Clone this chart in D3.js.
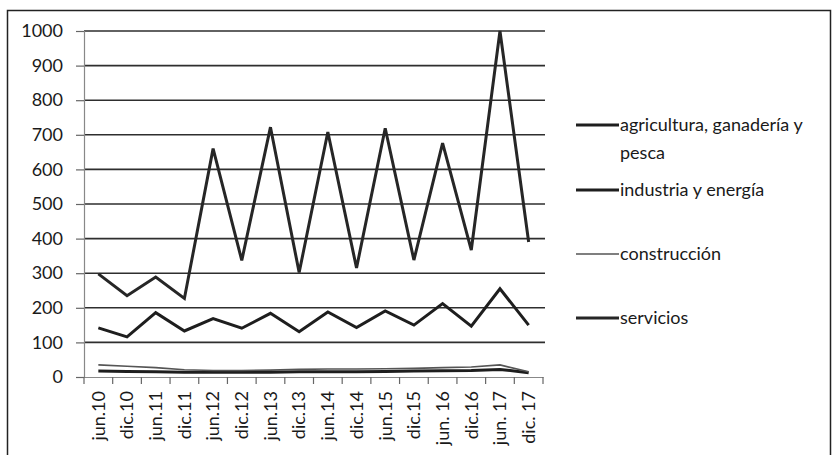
<!DOCTYPE html>
<html>
<head>
<meta charset="utf-8">
<script src="https://cdn.jsdelivr.net/npm/d3@7"></script>
<style>
  html, body { margin: 0; padding: 0; background: #fff; }
  svg { display: block; }
  text { font-family: Lato, "Open Sans", sans-serif; fill: #1a1a1a; }
</style>
</head>
<body>
<svg id="chart" width="836" height="455"></svg>
<script>
// Half-year periods
const categories = ["jun.10","dic.10","jun.11","dic.11","jun.12","dic.12","jun.13","dic.13",
                    "jun.14","dic.14","jun.15","dic.15","jun. 16","dic.16","jun. 17","dic. 17"];

// Series values per period
const agricultura = [17,16,15,14,14,14,14,15,15,15,16,17,18,19,22,12];
const industria   = [142,116,186,133,169,141,184,131,188,143,191,150,212,147,255,150];
const construccion= [35,31,27,21,19,19,20,22,23,23,24,25,27,29,35,15];
const servicios   = [298,235,289,227,660,337,722,302,708,315,719,338,676,367,1000,390];

const yTicks = [0,100,200,300,400,500,600,700,800,900,1000];

const seriesNames = ["agricultura, ganadería y pesca", "industria y energía", "construcción", "servicios"];

const series = [
  { name: seriesNames[0], values: agricultura,  color: "#1e1e1e", width: 3 },
  { name: seriesNames[1], values: industria,    color: "#1e1e1e", width: 3 },
  { name: seriesNames[2], values: construccion, color: "#555",    width: 1.6 },
  { name: seriesNames[3], values: servicios,    color: "#262626", width: 3 }
];

const FONT = 18;
const svg = d3.select("#chart");

// Outer frame
svg.append("rect")
  .attr("x", 7.5).attr("y", 10.5).attr("width", 823).attr("height", 460)
  .attr("fill", "none").attr("stroke", "#222").attr("stroke-width", 1.5);

const plot = { left: 84, right: 543, top: 31, bottom: 377 };

const x = d3.scaleBand().domain(categories).range([plot.left, plot.right]).paddingInner(0).paddingOuter(0);
const y = d3.scaleLinear().domain([0, 1000]).range([plot.bottom, plot.top]);

// Horizontal gridlines
svg.append("g").selectAll("line").data(yTicks.filter(d => d > 0)).join("line")
  .attr("x1", plot.left).attr("x2", plot.right + 2)
  .attr("y1", d => y(d)).attr("y2", d => y(d))
  .attr("stroke", "#2e2e2e").attr("stroke-width", 1.6);

// Y axis
const yAxis = svg.append("g").attr("transform", `translate(${plot.left},0)`)
  .call(d3.axisLeft(y).tickValues(yTicks).tickSize(8).tickPadding(13).tickFormat(d3.format("d")));
yAxis.select(".domain").attr("stroke", "#888").attr("stroke-width", 1.2);
yAxis.selectAll(".tick line").attr("stroke", "#666").attr("stroke-width", 1.2);
yAxis.selectAll("text").attr("font-size", FONT).attr("fill", "#1a1a1a")
  .style("font-family", "Lato, 'Open Sans', sans-serif");

// X axis with rotated labels
const xAxis = svg.append("g").attr("transform", `translate(0,${plot.bottom})`)
  .call(d3.axisBottom(x).tickSize(0).tickPadding(0));
xAxis.select(".domain").attr("stroke", "#888").attr("stroke-width", 1.2);
xAxis.selectAll(".tick line").remove();
xAxis.selectAll("text")
  .attr("font-size", FONT).attr("fill", "#1a1a1a")
  .style("font-family", "Lato, 'Open Sans', sans-serif")
  .attr("text-anchor", "end")
  .attr("dy", "0.35em")
  .attr("transform", "translate(0,14) rotate(-90)")
  .attr("x", 0).attr("y", 0);

// Category boundary ticks
const bounds = categories.map(c => x(c)).concat([plot.right]);
svg.append("g").selectAll("line").data(bounds).join("line")
  .attr("x1", d => d).attr("x2", d => d)
  .attr("y1", plot.bottom).attr("y2", plot.bottom + 7)
  .attr("stroke", "#666").attr("stroke-width", 1.2);

// Series lines
const line = d3.line()
  .x((d, i) => x(categories[i]) + x.bandwidth() / 2)
  .y(d => y(d));

svg.append("g").selectAll("path").data(series).join("path")
  .attr("d", s => line(s.values))
  .attr("fill", "none")
  .attr("stroke", s => s.color)
  .attr("stroke-width", s => s.width)
  .attr("stroke-linejoin", "miter");

// Legend
const legend = svg.append("g");
const legendItems = [
  { s: series[0], y: 125, lines: ["agricultura, ganadería y", "pesca"] },
  { s: series[1], y: 190, lines: ["industria y energía"] },
  { s: series[2], y: 254, lines: ["construcción"] },
  { s: series[3], y: 318, lines: ["servicios"] }
];
legendItems.forEach(item => {
  legend.append("line")
    .attr("x1", 576).attr("x2", 619)
    .attr("y1", item.y).attr("y2", item.y)
    .attr("stroke", item.s.color).attr("stroke-width", item.s.width);
  const t = legend.append("text")
    .attr("x", 620).attr("y", item.y)
    .attr("font-size", FONT);
  item.lines.forEach((l, i) => {
    t.append("tspan").attr("x", 620).attr("dy", i === 0 ? "0.35em" : "1.55em").text(l);
  });
});
</script>
</body>
</html>
